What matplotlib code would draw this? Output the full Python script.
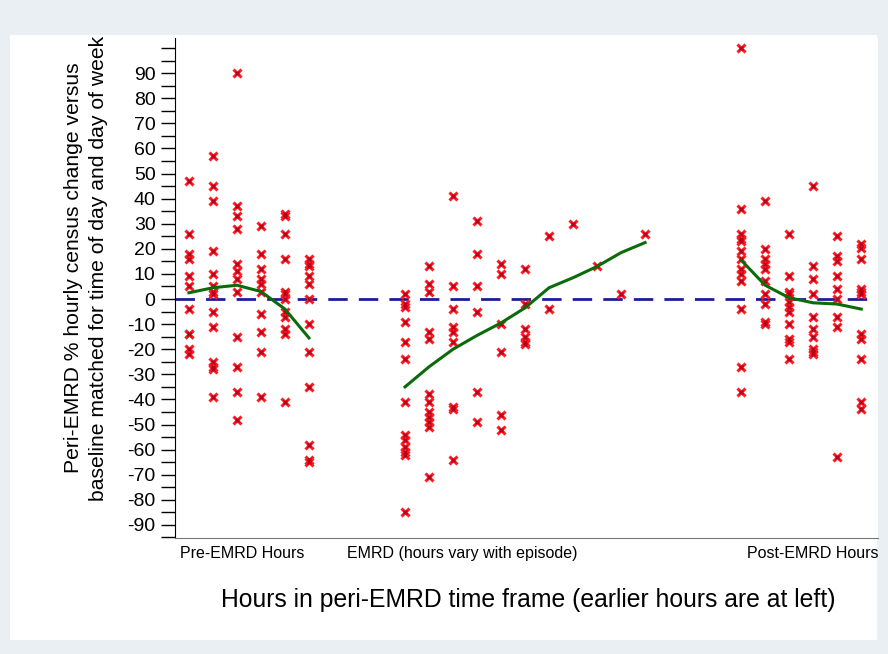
import numpy as np
import matplotlib
matplotlib.use("Agg")
import matplotlib.pyplot as plt
from matplotlib.patches import Rectangle
from matplotlib.ticker import MultipleLocator

plt.rcParams['font.family'] = ['Liberation Sans', 'DejaVu Sans']
plt.rcParams['axes.unicode_minus'] = False

# hour positions of each column
pre_hours = [1, 2, 3, 4, 5, 6]
emrd_hours = [10, 11, 12, 13, 14, 15, 16, 17, 18, 19, 20]
post_hours = [24, 25, 26, 27, 28, 29]

# individual episode values (% change) per hour
pre_vals = [
    [47, 26, 18, 16, 9, 5, -4, -14, -14, -20, -22],
    [57, 45, 39, 19, 10, 5, 3, 2, -5, -11, -25, -27, -28, -39],
    [90, 37, 33, 28, 14, 11, 8, 3, -15, -27, -37, -48],
    [29, 18, 12, 8, 6, 3, -6, -13, -21, -39],
    [34, 33, 26, 16, 3, 2, 0, -5, -7, -12, -14, -41],
    [16, 14, 13, 9, 6, 0, -10, -21, -35, -58, -64, -65],
]
emrd_vals = [
    [2, -2, -3, -9, -17, -24, -41, -54, -56, -59, -61, -62, -85],
    [13, 6, 3, -13, -16, -38, -41, -45, -47, -49, -51, -71],
    [41, 5, -4, -11, -13, -17, -43, -44, -64],
    [31, 18, 5, -5, -37, -49],
    [14, 10, -10, -21, -46, -52],
    [12, -2, -12, -15, -17, -18],
    [25, -4],
    [30],
    [13],
    [2],
    [26],
]
post_vals = [
    [100, 36, 26, 24, 23, 19, 16, 12, 10, 7, -4, -27, -37],
    [39, 20, 16, 14, 12, 7, 2, -2, -9, -10],
    [26, 9, 3, 2, -1, -3, -5, -10, -16, -17, -24],
    [45, 13, 8, 2, -7, -12, -15, -20, -21, -22],
    [25, 17, 15, 9, 4, 0, -7, -11, -63],
    [22, 20.5, 16, 4, 3, 2, -14, -16, -24, -41, -44],
]

# mean line per hour
pre_mean = [2.5, 4.5, 5.5, 3, -4, -15.5]
emrd_mean = [-35, -27, -20, -14.5, -9.5, -3.5, 4.5, 8.5, 13, 18.5, 22.5]
post_mean = [15.5, 5.5, 0.5, -1.5, -2, -4]

xtick_pos = [3.2, 12.4, 27.0]
xtick_labels = ['Pre-EMRD Hours', 'EMRD (hours vary with episode)', 'Post-EMRD Hours']

fig = plt.figure(figsize=(8.88, 6.54), dpi=100)
fig.patch.set_facecolor('#e9eff2')
fig.patches.append(Rectangle((10 / 888, 14 / 654), 867 / 888, 605 / 654,
                             transform=fig.transFigure, facecolor='white',
                             edgecolor='none', zorder=-5))

ax = fig.add_axes([175 / 888, 1 - 538 / 654, 703 / 888, 500 / 654])
ax.set_facecolor('white')

for hours, vals in [(pre_hours, pre_vals), (emrd_hours, emrd_vals), (post_hours, post_vals)]:
    for h, col in zip(hours, vals):
        ax.plot([h] * len(col), col, linestyle='none', marker='x', color='#ff1a22',
                markersize=5.5, markeredgewidth=2.2, zorder=3)
        ax.plot([h] * len(col), col, linestyle='none', marker='x', color='#b0001a',
                markersize=2.5, markeredgewidth=0.9, zorder=3)

ax.axhline(0, color='#1c1c9c', linestyle=(0, (7, 4)), linewidth=2, zorder=2)

for hours, means in [(pre_hours, pre_mean), (emrd_hours, emrd_mean), (post_hours, post_mean)]:
    ax.plot(hours, means, color='#0b6b0b', linewidth=2.2, zorder=4)

ax.set_xlim(0.42, 29.7)
ax.set_ylim(-95.2, 104)

ax.set_yticks(np.arange(-90, 91, 10))
ax.yaxis.set_minor_locator(MultipleLocator(5))
ax.tick_params(axis='y', which='major', labelsize=14, length=10, width=1, pad=4)
ax.tick_params(axis='y', which='minor', length=10, width=1)
ax.set_xticks(xtick_pos)
ax.set_xticklabels(xtick_labels)
ax.tick_params(axis='x', length=0, labelsize=11.5, pad=6)

ax.spines['top'].set_visible(False)
ax.spines['right'].set_visible(False)
ax.spines['left'].set_color('black')
ax.spines['bottom'].set_color('#777777')

fig.text(86 / 888, 1 - 268 / 654,
         'Peri-EMRD % hourly census change versus\nbaseline matched for time of day and day of week',
         rotation=90, ha='center', va='center', multialignment='center',
         fontsize=15.2, linespacing=1.4)
fig.text(528 / 888, 1 - 600 / 654, 'Hours in peri-EMRD time frame (earlier hours are at left)',
         ha='center', va='center', fontsize=17.8)

plt.savefig('out.png', dpi=100, facecolor=fig.get_facecolor())
